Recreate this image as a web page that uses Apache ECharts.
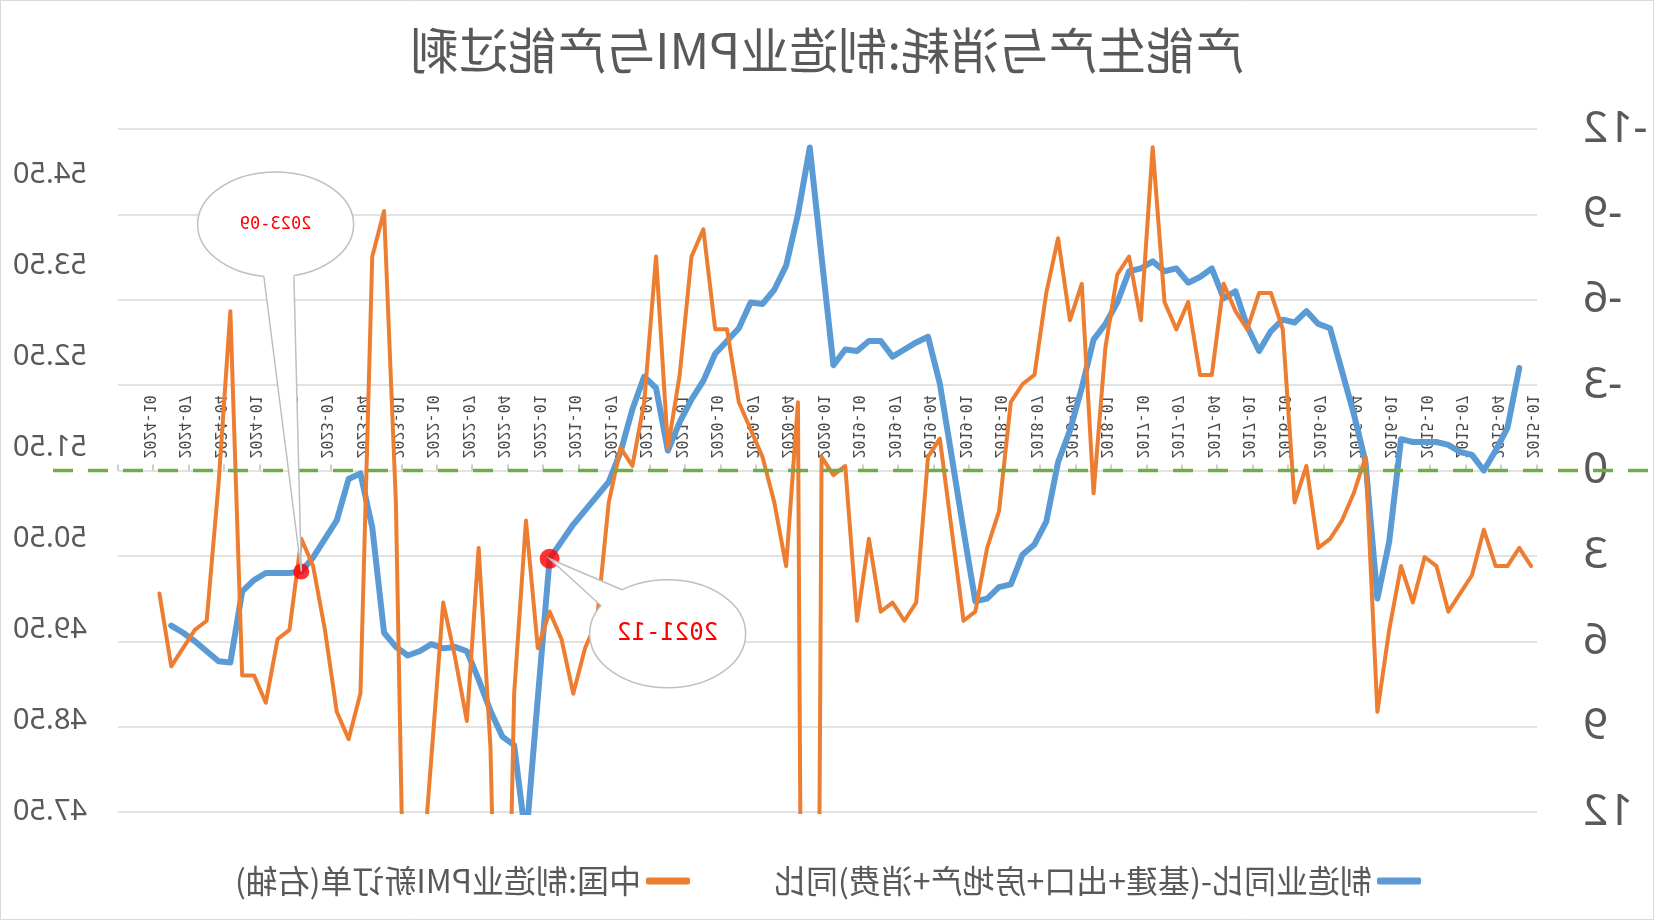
<!DOCTYPE html>
<html><head><meta charset="utf-8">
<script src="https://cdn.jsdelivr.net/npm/echarts@6/dist/echarts.min.js"></script>
<style>
html,body{margin:0;padding:0;background:#fff;}
#wrap{width:1654px;height:920px;transform:scaleX(-1);transform-origin:50% 50%;}
#chart{width:1654px;height:920px;}
</style></head><body>
<div id="wrap"><div id="chart"></div></div>
<script>
const categories = [
'2015-01','2015-02','2015-03','2015-04','2015-05','2015-06','2015-07','2015-08','2015-09','2015-10','2015-11','2015-12',
'2016-01','2016-02','2016-03','2016-04','2016-05','2016-06','2016-07','2016-08','2016-09','2016-10','2016-11','2016-12',
'2017-01','2017-02','2017-03','2017-04','2017-05','2017-06','2017-07','2017-08','2017-09','2017-10','2017-11','2017-12',
'2018-01','2018-02','2018-03','2018-04','2018-05','2018-06','2018-07','2018-08','2018-09','2018-10','2018-11','2018-12',
'2019-01','2019-02','2019-03','2019-04','2019-05','2019-06','2019-07','2019-08','2019-09','2019-10','2019-11','2019-12',
'2020-01','2020-02','2020-03','2020-04','2020-05','2020-06','2020-07','2020-08','2020-09','2020-10','2020-11','2020-12',
'2021-01','2021-02','2021-03','2021-04','2021-05','2021-06','2021-07','2021-08','2021-09','2021-10','2021-11','2021-12',
'2022-01','2022-02','2022-03','2022-04','2022-05','2022-06','2022-07','2022-08','2022-09','2022-10','2022-11','2022-12',
'2023-01','2023-02','2023-03','2023-04','2023-05','2023-06','2023-07','2023-08','2023-09','2023-10','2023-11','2023-12',
'2024-01','2024-02','2024-03','2024-04','2024-05','2024-06','2024-07','2024-08','2024-09','2024-10','2024-11','2024-12'
];
// 制造业同比-(基建+出口+房地产+消费)同比 (left axis, inverted)
const manufGap = [
null,-3.6,-1.5,-0.7,0.0,-0.55,-0.65,-0.9,-1.0,-1.0,-1.0,-1.1,
2.5,4.5,-0.3,-2.0,-3.5,-5.0,-5.15,-5.6,-5.2,-5.3,-4.9,-4.2,
-5.05,-6.3,-6.05,-7.1,-6.8,-6.6,-7.1,-7.0,-7.35,-7.1,-7.0,-5.9,
-5.15,-4.6,-2.9,-1.4,-0.3,1.8,2.6,2.95,4.0,4.1,4.5,4.6,
2.1,-0.5,-3.05,-4.7,-4.5,-4.25,-4.0,-4.55,-4.55,-4.2,-4.25,-3.7,
-7.5,-11.35,-9.0,-7.2,-6.35,-5.85,-5.9,-5.0,-4.55,-4.1,-3.15,-2.5,
-1.7,-0.7,-2.9,-3.3,-2.15,-0.65,0.4,0.9,1.4,1.9,2.5,3.1,
8.0,13.0,9.65,9.35,8.45,7.35,6.35,6.2,6.25,6.1,6.35,6.5,
6.2,5.7,2.0,0.1,0.3,1.75,2.4,3.05,3.55,3.6,3.6,3.6,
3.85,4.25,6.75,6.7,6.35,6.0,5.7,5.45,null,null,null,null
];
// 中国:制造业PMI新订单 (right axis)
const pmiNewOrders = [
50.2,50.4,50.2,50.2,50.6,50.1,49.9,49.7,50.2,50.3,49.8,50.2,
49.5,48.6,51.4,51.0,50.7,50.5,50.4,51.3,50.9,52.8,53.2,53.2,
52.8,53.0,53.3,52.3,52.3,53.1,52.8,53.1,54.8,52.9,53.6,53.4,
52.6,51.0,53.3,52.9,53.8,53.2,52.3,52.2,52.0,50.8,50.4,49.7,
49.6,50.6,51.6,51.4,49.8,49.6,49.8,49.7,50.5,49.6,51.3,51.2,
51.4,29.3,52.0,50.2,50.9,51.4,51.7,52.0,52.8,52.8,53.9,53.6,
52.3,51.5,53.6,52.0,51.3,51.5,50.9,49.6,49.3,48.8,49.4,49.7,
49.3,50.7,48.8,42.6,48.2,50.4,48.5,49.2,49.8,48.1,46.4,43.9,
50.9,54.1,53.6,48.8,48.3,48.6,49.5,50.2,50.5,49.5,49.4,48.7,
49.0,49.0,53.0,51.1,49.6,49.5,49.3,49.1,49.9,null,null,null
];
const pmiTickValues = [47.5,48.5,49.5,50.5,51.5,52.5,53.5,54.5];
const highlightDates = ['2023-09','2021-12'];
const highlightLabels = ['2023-09','2021-12'];

const seriesNames = ['制造业同比-(基建+出口+房地产+消费)同比','中国:制造业PMI新订单(右轴)'];
const BLUE='#5b9bd5', ORANGE='#ed7d31', GRAY='#595959';

const chart = echarts.init(document.getElementById('chart'), null, {renderer:'canvas'});
const hiData = highlightDates.map(d => [d, manufGap[categories.indexOf(d)]]);

chart.setOption({
  backgroundColor:'#ffffff',
  animation:false,
  title:{text:'产能生产与消耗:制造业PMI与产能过剩', left:'center', top:21,
    textStyle:{fontFamily:'Noto Sans CJK SC', fontSize:49, fontWeight:'normal', color:GRAY}},
  legend:{left:228, top:860, itemGap:84, itemWidth:44, itemHeight:7, icon:'roundRect',
    textStyle:{fontFamily:'Noto Sans CJK SC', fontSize:32, color:GRAY},
    data:seriesNames},
  grid:{left:117, right:118, top:129, bottom:108},
  xAxis:{type:'category', data:categories, boundaryGap:true, offset:0,
    axisLine:{show:false, onZero:false},
    axisTick:{show:true, inside:true, length:6, interval:2, lineStyle:{color:'#bfbfbf', width:1.5}},
    axisLabel:{interval:2, rotate:90, inside:true, margin:12, color:'#4a4a4a',
      fontFamily:'DejaVu Sans Mono', fontSize:15},
    splitLine:{show:false}},
  yAxis:[
    {type:'value', position:'left', inverse:true, min:-12, max:12, interval:3,
      axisLine:{show:false}, axisTick:{show:false},
      axisLabel:{color:GRAY, fontFamily:'Noto Sans', fontSize:44, margin:46},
      splitLine:{lineStyle:{color:'#d9d9d9', width:1.5}}},
    {type:'value', position:'right', min:47.5, max:55,
      axisLine:{show:false}, axisTick:{show:false}, splitLine:{show:false},
      axisLabel:{customValues:pmiTickValues, color:GRAY, fontFamily:'Noto Sans', fontSize:29, margin:31,
        formatter:v=>v.toFixed(2)}}
  ],
  series:[
    {name:seriesNames[0], type:'line', yAxisIndex:0, data:manufGap, showSymbol:false, symbol:'none',
      lineStyle:{color:BLUE, width:6, join:'round', cap:'round'}, itemStyle:{color:BLUE}, z:2},
    {name:seriesNames[1], type:'line', yAxisIndex:1, data:pmiNewOrders, showSymbol:false, symbol:'none',
      lineStyle:{color:ORANGE, width:4, join:'round', cap:'round'}, itemStyle:{color:ORANGE}, z:3},
    {type:'scatter', yAxisIndex:0, data:hiData, symbolSize:(v,p)=>p.dataIndex===0?16:20,
      itemStyle:{color:'#ff0000'}, z:5, silent:true}
  ]
});

function addGraphics(){
  // place the category axis on the zero line of the inverted axis
  const y0 = chart.convertToPixel({yAxisIndex:0}, 0);
  const yBottom = chart.convertToPixel({yAxisIndex:0}, 12);
  chart.setOption({xAxis:{offset: -(yBottom - y0)}});
  const els = [];
  els.push({type:'rect', shape:{x:0.5,y:0.5,width:1653,height:919}, style:{fill:'none', stroke:'#d9d9d9', lineWidth:1}, z:1, silent:true});
  els.push({type:'line', shape:{x1:6, y1:y0, x2:1601, y2:y0},
    style:{stroke:'#70ad47', lineWidth:3.5, lineDash:[20,15]}, z:50, silent:true});
  const specs = [
    {c:[25.7,-347], rx:78, ry:52.5, b:[[-18.3,52],[11.7,52]], font:'17px DejaVu Sans Mono'},
    {c:[-118,75], rx:78, ry:54, b:[[45.6,-44],[66.6,-28]], font:'24px DejaVu Sans Mono'}
  ];
  hiData.forEach((d,k)=>{
    const t = chart.convertToPixel({xAxisIndex:0, yAxisIndex:0}, d);
    const s = specs[k];
    const cx = t[0]+s.c[0], cy = t[1]+s.c[1];
    const b1 = [cx+s.b[0][0], cy+s.b[0][1]], b2 = [cx+s.b[1][0], cy+s.b[1][1]];
    const in1 = [cx+s.b[0][0]*0.85, cy+s.b[0][1]*0.85], in2 = [cx+s.b[1][0]*0.85, cy+s.b[1][1]*0.85];
    els.push({type:'ellipse', shape:{cx:cx, cy:cy, rx:s.rx, ry:s.ry}, style:{fill:'#ffffff', stroke:'#bfbfbf', lineWidth:1.5}, z:100, silent:true});
    els.push({type:'polygon', shape:{points:[in1, b1, t, b2, in2]}, style:{fill:'#ffffff', stroke:null}, z:101, silent:true});
    els.push({type:'polyline', shape:{points:[b1, t, b2]}, style:{fill:null, stroke:'#bfbfbf', lineWidth:1.5}, z:102, silent:true});
    els.push({type:'text', x:cx, y:cy, style:{text:highlightLabels[k], align:'center', verticalAlign:'middle', fill:'#ff0000', font:s.font}, z:103, silent:true});
  });
  chart.setOption({graphic:{elements:els}});
}
addGraphics();
</script>
</body></html>
